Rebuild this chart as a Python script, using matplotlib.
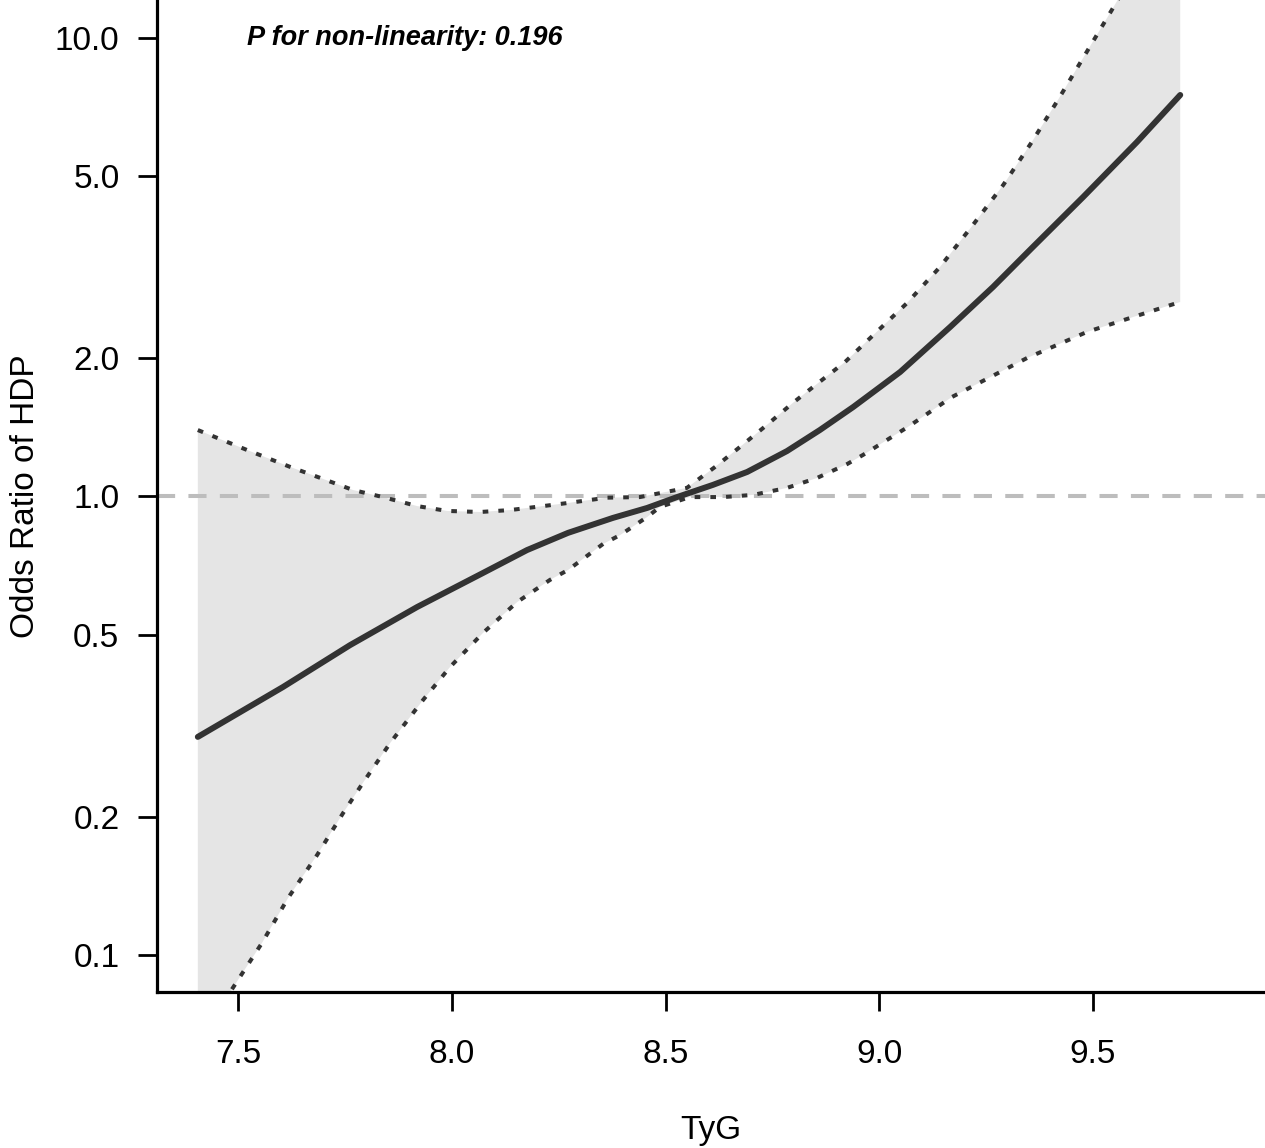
import numpy as np
import matplotlib
matplotlib.use("Agg")
import matplotlib.pyplot as plt

plt.rcParams['font.family'] = ['Liberation Sans', 'DejaVu Sans']

# spline estimate (odds ratio)
tyg_fit = [7.406, 7.605, 7.762, 7.919, 8.073, 8.176, 8.272, 8.377, 8.457, 8.527,
           8.611, 8.691, 8.784, 8.861, 8.939, 9.002, 9.049, 9.166, 9.266, 9.357,
           9.477, 9.603, 9.704]
or_fit = [0.299, 0.384, 0.474, 0.574, 0.681, 0.764, 0.833, 0.898, 0.944, 0.997,
          1.060, 1.131, 1.256, 1.396, 1.567, 1.733, 1.869, 2.343, 2.863, 3.483,
          4.500, 5.933, 7.510]

# upper 95% CI
tyg_up = [7.406, 7.521, 7.622, 7.699, 7.769, 7.839, 7.919, 7.989, 8.066, 8.136,
          8.214, 8.272, 8.363, 8.440, 8.550, 8.616, 8.674, 8.737, 8.798, 8.857,
          8.920, 9.065, 9.142, 9.219, 9.290, 9.357, 9.418, 9.481, 9.544,
          9.633, 9.704]
or_up = [1.396, 1.263, 1.160, 1.092, 1.033, 0.997, 0.953, 0.930, 0.925, 0.934,
         0.953, 0.968, 0.994, 0.997, 1.044, 1.160, 1.282, 1.432, 1.600, 1.768,
         1.965, 2.642, 3.166, 3.909, 4.779, 5.933, 7.325, 9.18, 11.51,
         15.95, 20.3]

# lower 95% CI
tyg_lo = [7.406, 7.488, 7.556, 7.617, 7.685, 7.746, 7.792, 7.856, 7.933, 7.996,
          8.073, 8.153, 8.230, 8.272, 8.354, 8.394, 8.457, 8.487, 8.557, 8.635,
          8.705, 8.784, 8.854, 8.925, 8.962, 9.067, 9.170, 9.346, 9.486, 9.594,
          9.704]
or_lo = [0.0646, 0.0848, 0.1062, 0.1331, 0.1652, 0.2041, 0.2372, 0.290, 0.360, 0.4247,
         0.5039, 0.5886, 0.658, 0.6913, 0.788, 0.824, 0.902, 0.949, 0.997, 0.997,
         1.008, 1.044, 1.097, 1.177, 1.232, 1.418, 1.648, 2.005, 2.285, 2.463,
         2.656]

y_ticks = [0.1, 0.2, 0.5, 1.0, 2.0, 5.0, 10.0]
x_ticks = [7.5, 8.0, 8.5, 9.0, 9.5]
p_text = "P for non-linearity: 0.196"

fig = plt.figure(figsize=(12.65, 11.48), dpi=100)
ax = fig.add_axes([157 / 1265, 1 - 992 / 1148, 1108 / 1265, 992 / 1148])

# shaded band: polygon along the upper curve and back along the lower one
band_x = np.concatenate([tyg_up, tyg_lo[::-1]])
band_y = np.concatenate([or_up, or_lo[::-1]])
ax.fill(band_x, band_y, color='#e5e5e5', lw=0, zorder=1)

ax.axhline(1.0, color='#bdbdbd', lw=2.9, ls=(0, (4.5, 3.3)), zorder=2)

dots = (0, (1.4, 2.5))
ax.plot(tyg_up, or_up, color='#333333', lw=2.9, ls=dots, zorder=3)
ax.plot(tyg_lo, or_lo, color='#333333', lw=2.9, ls=dots, zorder=3)
ax.plot(tyg_fit, or_fit, color='#333333', lw=4.3, solid_capstyle='round',
        solid_joinstyle='round', zorder=4)

ax.set_yscale('log')
ax.set_xlim(7.3105, 9.9023)
ax.set_ylim(0.08304, 12.1)
ax.set_yticks(y_ticks)
ax.set_yticklabels([f"{v:.1f}" for v in y_ticks])
ax.yaxis.set_minor_locator(matplotlib.ticker.NullLocator())
ax.set_xticks(x_ticks)
ax.set_xticklabels([f"{v:.1f}" for v in x_ticks])

for s in ['top', 'right']:
    ax.spines[s].set_visible(False)
for s in ['left', 'bottom']:
    ax.spines[s].set_linewidth(2.3)
ax.tick_params(axis='both', length=14, width=2.0, labelsize=24, color='black')
ax.tick_params(axis='x', pad=20)
ax.tick_params(axis='y', pad=13)

ax.set_xlabel("TyG", fontsize=24, labelpad=32)
ax.set_ylabel("Odds Ratio of HDP", fontsize=24, labelpad=10)

ax.text(7.521, 10.0, p_text, fontsize=19.5, fontweight='bold', fontstyle='italic',
        ha='left', va='center', zorder=5)

fig.savefig("out.png", dpi=100)
